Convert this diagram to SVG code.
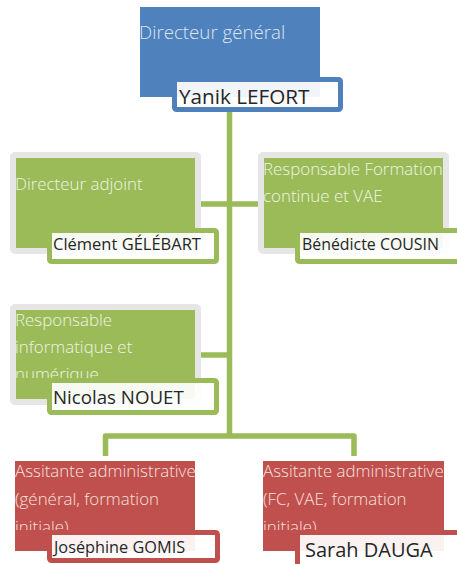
<svg xmlns="http://www.w3.org/2000/svg" width="457" height="564" viewBox="0 0 457 564">
<style>
.t{font-family:"Open Sans","Noto Sans","Liberation Sans",sans-serif;font-size:16.9px;font-weight:300}
.tb{fill:#dbe6f3;font-size:18.7px}
.tg{fill:#eef4e2}
.tr{fill:#f6e0df}
.n{font-family:"Open Sans","Noto Sans","Liberation Sans",sans-serif;fill:#262626}
.gbox{fill:#9bbb59;stroke:#e6e6e6;stroke-width:6}
.nbg{fill:#ffffff;fill-opacity:0.92;stroke:#9bbb59;stroke-width:5}
.nbr{fill:#ffffff;fill-opacity:0.92;stroke:#c0504d;stroke-width:5}
.nbb{fill:#ffffff;fill-opacity:0.92;stroke:#4f81bd;stroke-width:5}
.c{fill:none;stroke:#9bbb59;stroke-width:5.5}
</style>
<defs>
<clipPath id="c3"><rect x="0" y="300" width="230" height="78"/></clipPath>
<clipPath id="c5"><rect x="0" y="455" width="230" height="75"/></clipPath>
<clipPath id="c6"><rect x="250" y="455" width="207" height="75"/></clipPath>
</defs>
<g id="connectors">
<path class="c" d="M229.5,110 V436"/>
<path class="c" d="M200,204 H259"/>
<path class="c" d="M200,355 H229.5"/>
<path class="c" d="M105.5,456 V436 H354 V456" stroke-linejoin="round"/>
</g>
<g id="directeur-general">
<rect x="140" y="7" width="180" height="90" fill="#4f81bd"/>
<text class="t tb" x="139" y="39">Directeur général</text>
<rect class="nbb" x="174.5" y="79.5" width="166" height="30" rx="2"/>
<text class="n" x="179" y="104" font-size="20.7">Yanik LEFORT</text>
</g>
<g id="directeur-adjoint">
<rect class="gbox" x="13" y="155" width="185" height="96" rx="2"/>
<text class="t tg" x="15" y="190">Directeur adjoint</text>
<rect class="nbg" x="49.5" y="230.5" width="167" height="31" rx="2"/>
<text class="n" x="53" y="250" font-size="16.5">Clément GÉLÉBART</text>
</g>
<g id="responsable-fc-vae">
<rect class="gbox" x="261" y="155" width="185" height="96" rx="2"/>
<text class="t tg" x="263" y="175">Responsable Formation</text>
<text class="t tg" x="263" y="202">continue et VAE</text>
<rect class="nbg" x="297.5" y="230.5" width="166" height="31" rx="2"/>
<text class="n" x="302" y="250" font-size="15.9">Bénédicte COUSIN</text>
</g>
<g id="responsable-informatique">
<rect class="gbox" x="13" y="307" width="185" height="95" rx="2"/>
<g clip-path="url(#c3)">
<text class="t tg" x="15" y="326">Responsable</text>
<text class="t tg" x="15" y="353">informatique et</text>
<text class="t tg" x="15" y="380">numérique</text>
</g>
<rect class="nbg" x="49.5" y="380.5" width="167" height="32" rx="2"/>
<text class="n" x="53" y="404" font-size="18.7">Nicolas NOUET</text>
</g>
<g id="assistante-general">
<rect x="15" y="461" width="180" height="90" fill="#c0504d"/>
<g clip-path="url(#c5)">
<text class="t tr" x="15" y="477">Assitante administrative</text>
<text class="t tr" x="15" y="505">(général, formation</text>
<text class="t tr" x="15" y="533">initiale)</text>
</g>
<rect class="nbr" x="49.5" y="532.5" width="168" height="28" rx="2"/>
<text class="n" x="54" y="553" font-size="16.3">Joséphine GOMIS</text>
</g>
<g id="assistante-fc">
<rect x="263" y="461" width="181" height="90" fill="#c0504d"/>
<g clip-path="url(#c6)">
<text class="t tr" x="263" y="477">Assitante administrative</text>
<text class="t tr" x="263" y="505">(FC, VAE, formation</text>
<text class="t tr" x="263" y="533">initiale)</text>
</g>
<rect class="nbr" x="297.5" y="532.5" width="166" height="34" rx="2"/>
<text class="n" x="305" y="557" font-size="20">Sarah DAUGA</text>
</g>
</svg>
